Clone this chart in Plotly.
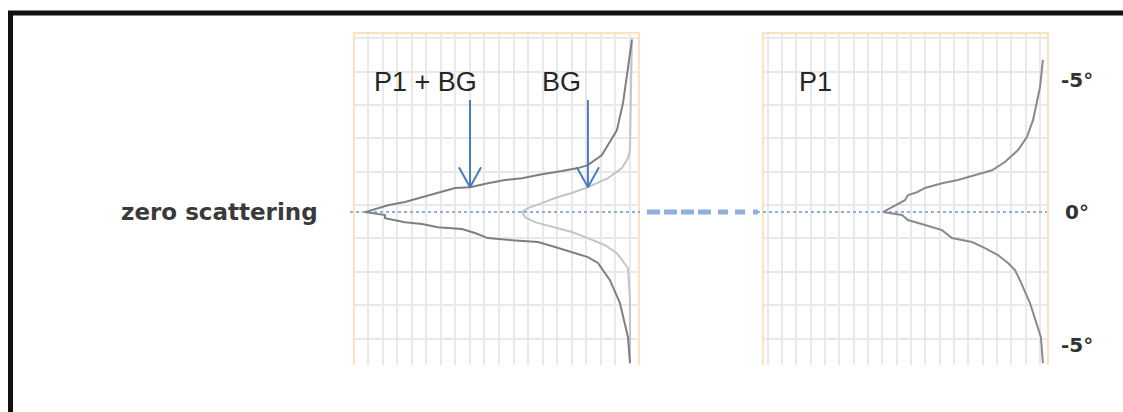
import plotly.graph_objects as go

# ---------------- data ----------------
# left panel: P1 + BG profile (x = intensity a.u., y = angle deg)
p1bg_x = [19.02, 18.75, 18.41, 17.99, 17.31, 16.96, 16.00, 15.32, 14.22, 12.84, 11.47, 10.30,
          9.13, 7.90, 6.87, 5.70, 4.60, 3.43, 2.27, 1.58, 0.69,
          2.06, 2.06, 3.43, 4.60, 5.70, 7.35, 8.24, 9.13, 10.78, 12.57, 13.74, 14.90,
          16.00, 16.69, 17.51, 18.20, 18.75, 18.89]
p1bg_y = [6.49, 5.36, 4.11, 3.09, 2.45, 2.15, 1.77, 1.66, 1.55, 1.43, 1.28, 1.21,
          1.09, 0.94, 0.91, 0.72, 0.57, 0.38, 0.26, 0.15, 0.00,
          -0.11, -0.23, -0.38, -0.45, -0.57, -0.64, -0.79, -0.98, -1.06, -1.13, -1.32, -1.51,
          -1.70, -1.92, -2.57, -3.43, -4.72, -5.70]

# left panel: BG profile
bg_x = [19.02, 18.96, 18.89, 18.75, 18.34, 17.38, 16.00, 14.90, 13.74, 12.84, 11.88, 11.47,
        11.68, 12.36, 13.74, 14.90, 16.00, 17.17, 17.99, 18.75, 18.89, 18.89]
bg_y = [6.57, 4.23, 2.34, 2.04, 1.66, 1.28, 0.94, 0.72, 0.53, 0.34, 0.15, 0.00,
        -0.19, -0.38, -0.57, -0.75, -0.98, -1.25, -1.55, -2.11, -3.32, -5.70]

# right panel: P1 profile
p1_x = [19.16, 18.96, 18.48, 18.06, 17.45, 16.55, 15.66, 14.49, 13.32, 12.23, 11.06, 10.51,
        9.89, 9.68, 9.00, 8.17,
        9.48, 9.89, 11.06, 12.23, 12.91, 14.29, 15.18, 16.07, 16.76, 17.24, 17.58, 18.27,
        19.02, 19.16]
p1_y = [5.74, 4.72, 3.47, 2.83, 2.34, 1.89, 1.58, 1.40, 1.21, 1.09, 0.91, 0.75,
        0.64, 0.45, 0.26, 0.00,
        -0.11, -0.30, -0.49, -0.68, -0.98, -1.13, -1.36, -1.62, -1.92, -2.19, -2.57, -3.43,
        -4.72, -5.70]

# arrows (left panel): x position, tail and tip angle
arrow_x = [7.90, 16.00]
arrow_tail_y = [4.23, 4.23]
arrow_tip_y = [0.94, 0.94]

# curve labels
label_text = ["P1 + BG", "BG"]
label_x = [1.17, 12.7]
label_y = [4.9, 4.9]
right_label_text = "P1"
right_label_x = 2.27

# angle labels at the right
angle_vals = [5, 0, -5]
angle_text = ["-5°", "0°", "-5°"]

W, H = 1123, 412
XR = [0, 19.44]
YR = [-5.77, 6.72]

GRID = "#e9e9e9"
BORDER = "#fde2bb"
BLUE = "#4a7ebb"

fig = go.Figure()

# left panel curves
fig.add_trace(go.Scatter(x=bg_x, y=bg_y, mode="lines", xaxis="x", yaxis="y",
                         line=dict(color="#c4c4c4", width=2), hoverinfo="skip"))
fig.add_trace(go.Scatter(x=p1bg_x, y=p1bg_y, mode="lines", xaxis="x", yaxis="y",
                         line=dict(color="#7f7f7f", width=2), hoverinfo="skip"))
# right panel curve
fig.add_trace(go.Scatter(x=p1_x, y=p1_y, mode="lines", xaxis="x2", yaxis="y2",
                         line=dict(color="#8a8a8a", width=2), hoverinfo="skip"))

# arrows: open V heads
head_h = 0.75
head_w = 0.76
for ax_, ty, hy in zip(arrow_x, arrow_tail_y, arrow_tip_y):
    fig.add_trace(go.Scatter(x=[ax_, ax_], y=[ty, hy], mode="lines", xaxis="x", yaxis="y",
                             line=dict(color=BLUE, width=2), hoverinfo="skip"))
    fig.add_trace(go.Scatter(x=[ax_ - head_w, ax_, ax_ + head_w],
                             y=[hy + head_h, hy, hy + head_h], mode="lines",
                             xaxis="x", yaxis="y",
                             line=dict(color=BLUE, width=2), hoverinfo="skip"))

def xdom(x0, x1):
    return [x0 / W, x1 / W]

ydom = [1 - 365 / H, 1 - 34 / H]

common_x = dict(range=XR, showgrid=True, gridcolor=GRID, gridwidth=2, dtick=1,
                showticklabels=False, ticks="", zeroline=False, showline=True,
                linecolor=BORDER, linewidth=2, side="top", mirror=False, fixedrange=True)
common_y = dict(range=YR, showgrid=True, gridcolor=GRID, gridwidth=2, tick0=0.264, dtick=1.26,
                showticklabels=False, ticks="", zeroline=False, showline=True,
                linecolor=BORDER, linewidth=2, mirror=True, fixedrange=True)

fig.update_layout(
    width=W, height=H,
    margin=dict(l=0, r=0, t=0, b=0),
    paper_bgcolor="white", plot_bgcolor="white",
    showlegend=False,
    xaxis=dict(domain=xdom(355, 638), tick0=0.89, anchor="y", **common_x),
    yaxis=dict(domain=ydom, anchor="x", **common_y),
    xaxis2=dict(domain=xdom(764, 1047), tick0=1.24, anchor="y2",
                **{k: v for k, v in common_x.items() if k != "dtick"}, dtick=0.984),
    yaxis2=dict(domain=ydom, anchor="x2", **common_y),
)

# zero-scattering reference lines
fig.add_shape(type="line", xref="paper", yref="y", x0=350 / W, x1=640 / W, y0=0, y1=0,
              line=dict(color="#6f95cf", width=1.5, dash="dot"))
fig.add_shape(type="line", xref="paper", yref="y2", x0=757 / W, x1=1047 / W, y0=0, y1=0,
              line=dict(color="#6f95cf", width=1.5, dash="dot"))
fig.add_shape(type="line", xref="paper", yref="y", x0=647 / W, x1=758 / W, y0=0, y1=0,
              line=dict(color="#8fb0dc", width=5,
                        dash="13px,4px,13px,4px,13px,4px,13px,7px,10px,7px,10px,8px"))

# outer black frame (top and left)
fig.add_shape(type="line", xref="paper", yref="paper", x0=8 / W, x1=1.0, y0=1 - 13 / H, y1=1 - 13 / H,
              line=dict(color="#111111", width=5))
fig.add_shape(type="line", xref="paper", yref="paper", x0=10.5 / W, x1=10.5 / W, y0=0, y1=1 - 11 / H,
              line=dict(color="#111111", width=5))

# text labels
for t, x, y in zip(label_text, label_x, label_y):
    fig.add_annotation(text=t, x=x, y=y, xref="x", yref="y", xanchor="left", yanchor="middle",
                       showarrow=False, font=dict(family="Liberation Sans", size=27, color="#262626"))
fig.add_annotation(text=right_label_text, x=right_label_x, y=label_y[0], xref="x2", yref="y2",
                   xanchor="left", yanchor="middle", showarrow=False,
                   font=dict(family="Liberation Sans", size=27, color="#262626"))

fig.add_annotation(text="zero scattering", x=320 / W, y=0, xref="paper", yref="y",
                   xanchor="right", yanchor="middle", showarrow=False,
                   font=dict(family="DejaVu Sans", size=23, color="#3a3a3a", weight="bold"))

for v, t in zip(angle_vals, angle_text):
    fig.add_annotation(text=t, x=1077 / W, y=v, xref="paper", yref="y2",
                       xanchor="center", yanchor="middle", showarrow=False,
                       font=dict(family="DejaVu Sans", size=20, color="#333333", weight="bold"))

fig.write_html("out.html")
